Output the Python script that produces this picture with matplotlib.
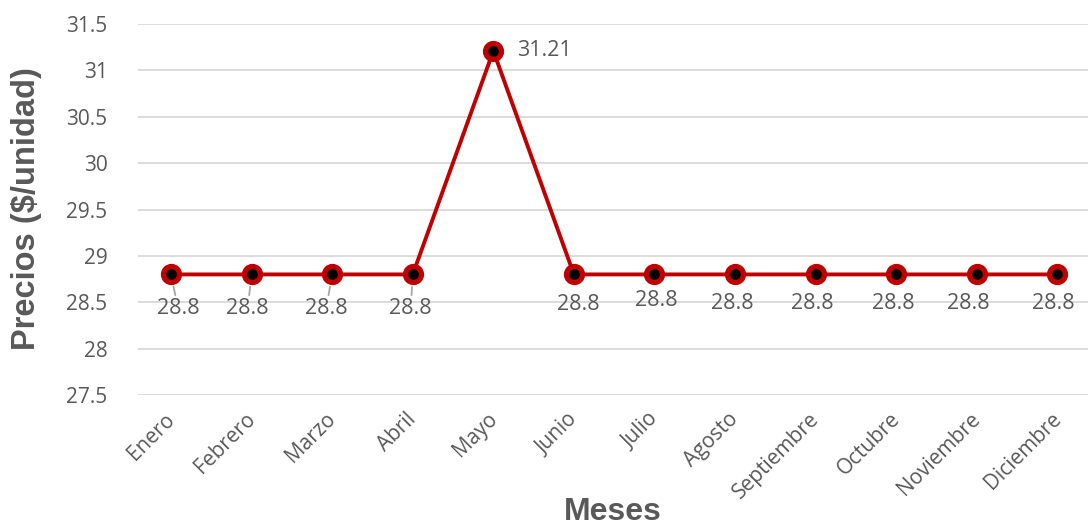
import numpy as np
import matplotlib.pyplot as plt
import matplotlib.transforms as mtransforms

# datos
meses = ['Enero', 'Febrero', 'Marzo', 'Abril', 'Mayo', 'Junio', 'Julio',
         'Agosto', 'Septiembre', 'Octubre', 'Noviembre', 'Diciembre']
precios = [28.8, 28.8, 28.8, 28.8, 31.21, 28.8, 28.8, 28.8, 28.8, 28.8, 28.8, 28.8]
y_ticks = [27.5, 28, 28.5, 29, 29.5, 30, 30.5, 31, 31.5]

# desplazamiento de etiquetas (pixeles)
lbl_dx = [7, -4, -6, -2, 24, 4, 2, -3, -3, -3, -8, -4]
lbl_dy = [-34, -34, -34, -34, 0, -30, -26, -29, -29, -29, -29, -29]
leader = [True, True, True, True, False, False, False, False, False, False, False, False]

GRIS = '#595959'
ROJO = '#C00000'

fig = plt.figure(figsize=(10.88, 5.27), dpi=100)
ax = fig.add_axes([138/1088, 1 - 395/527, (1088-138)/1088, (395-24)/527])

x = np.arange(len(meses))
ax.plot(x, precios, color=ROJO, lw=2.8, marker='o', ms=11.5,
        mfc='black', mec=ROJO, mew=3.8, zorder=3, clip_on=False)

ax.set_xlim(-0.41, 11.38)
ax.set_ylim(27.5, 31.5)
ax.set_yticks(y_ticks)
ax.set_yticklabels([f'{v:g}' for v in y_ticks])
ax.grid(axis='y', color='#D9D9D9', lw=1.3)
ax.set_axisbelow(True)
for s in ax.spines.values():
    s.set_visible(False)
ax.tick_params(length=0, labelsize=15, labelcolor=GRIS)
ax.tick_params(axis='y', pad=22)
for t in ax.get_yticklabels():
    t.set_fontfamily('Open Sans')

ax.set_xticks(x)
ax.set_xticklabels(meses, rotation=45, ha='right', rotation_mode='anchor',
                   fontfamily='Open Sans', fontsize=15, color=GRIS)
ax.tick_params(axis='x', pad=10)
# mover un poco las etiquetas de los meses a la izquierda
desplaza = mtransforms.ScaledTranslation(-7/100, 0, fig.dpi_scale_trans)
for t in ax.get_xticklabels():
    t.set_transform(t.get_transform() + desplaza)

for i, v in enumerate(precios):
    txt = f'{v:g}'
    if leader[i]:
        ax.annotate(txt, (x[i], v), xytext=(lbl_dx[i], lbl_dy[i]),
                    textcoords='offset pixels', ha='center', va='center',
                    fontsize=15.5, color=GRIS, fontfamily='Open Sans',
                    arrowprops=dict(arrowstyle='-', color='#A6A6A6', lw=1.3,
                                    shrinkA=0, shrinkB=9))
    elif i == 4:
        ax.annotate(txt, (x[i], v), xytext=(lbl_dx[i], lbl_dy[i]),
                    textcoords='offset pixels', ha='left', va='center',
                    fontsize=15.5, color=GRIS, fontfamily='Open Sans')
    else:
        ax.annotate(txt, (x[i], v), xytext=(lbl_dx[i], lbl_dy[i]),
                    textcoords='offset pixels', ha='center', va='center',
                    fontsize=15.5, color=GRIS, fontfamily='Open Sans')

fig.text(27/1088, 1 - 209/527, 'Precios ($/unidad)', rotation=90,
         ha='center', va='center', fontsize=23.5, fontweight='bold',
         color=GRIS, fontfamily='Liberation Sans')
fig.text(613/1088, 1 - 512/527, 'Meses', ha='center', va='center',
         fontsize=23, fontweight='bold', color=GRIS,
         fontfamily='Liberation Sans')

fig.savefig('out.png', dpi=100)
